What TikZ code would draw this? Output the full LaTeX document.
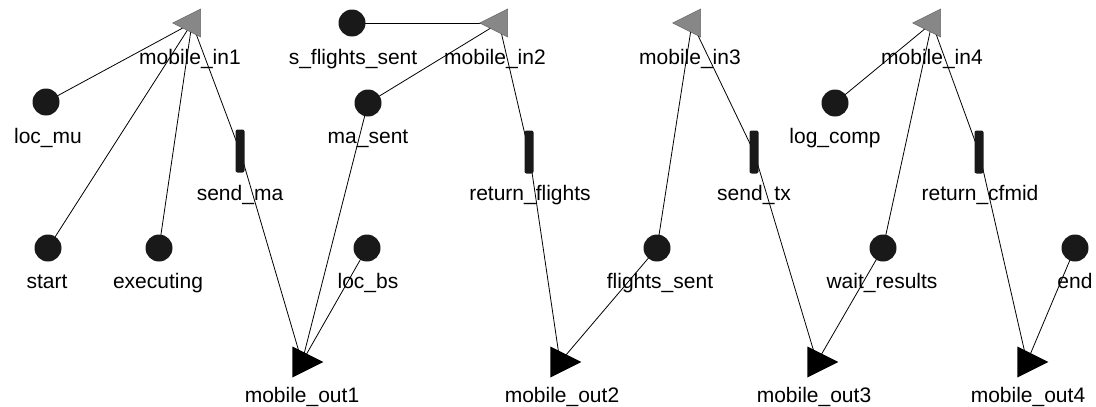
\documentclass[tikz,border=0pt]{standalone}
\usepackage{fontspec}
\setmainfont{Liberation Sans}
\usetikzlibrary{shapes.geometric,backgrounds}
\definecolor{ingray}{RGB}{135,135,135}
\definecolor{darkfill}{RGB}{25,25,25}
\begin{document}
\begin{tikzpicture}[x=1pt,y=-1pt,
  place/.style={circle, fill=darkfill, minimum size=27pt, inner sep=0pt},
  inT/.style={isosceles triangle, isosceles triangle stretches, shape border rotate=180,
    minimum width=28pt, minimum height=28pt, inner sep=0pt, fill=ingray, draw=black!60, line width=0.4pt},
  outT/.style={isosceles triangle, isosceles triangle stretches, shape border rotate=0,
    minimum width=31pt, minimum height=31pt, inner sep=0pt, fill=black},
  trans/.style={rectangle, rounded corners=2pt, fill=darkfill, minimum width=9pt, minimum height=43pt, inner sep=0pt},
  lbl/.style={anchor=base, inner sep=0pt, font=\fontsize{21}{24}\selectfont},
  arc/.style={draw=black, line width=0.8pt}]
\useasboundingbox (0,0) rectangle (1096,407);
% places
\node[place] (locmu) at (46,102) {};
\node[place] (start) at (48,248) {};
\node[place] (exec) at (159,248) {};
\node[place] (locbs) at (367,248) {};
\node[place] (sfs) at (352,23) {};
\node[place] (masent) at (368,103) {};
\node[place] (fs) at (657,248) {};
\node[place] (logcomp) at (835,103) {};
\node[place] (wr) at (883,248) {};
\node[place] (end) at (1075,248) {};
% transitions
\node[trans] (sendma) at (240,151) {};
\node[trans] (retfl) at (529,152) {};
\node[trans] (sendtx) at (754,152) {};
\node[trans] (retcf) at (979,152) {};
% input triangles
\node[inT] (in1) at (192,23) {};
\node[inT] (in2) at (499,23) {};
\node[inT] (in3) at (692,23) {};
\node[inT] (in4) at (932,23) {};
% output triangles
\node[outT] (out1) at (302,362) {};
\node[outT] (out2) at (560,362) {};
\node[outT] (out3) at (817,362) {};
\node[outT] (out4) at (1027,362) {};
% labels
\node[lbl] (l-locmu) at (48,143) {loc\_mu};
\node[lbl] (l-start) at (47,288) {start};
\node[lbl] (l-exec) at (158,288) {executing};
\node[lbl] (l-locbs) at (368,288) {loc\_bs};
\node[lbl] (l-sfs) at (353,64) {s\_flights\_sent};
\node[lbl] (l-masent) at (368,143) {ma\_sent};
\node[lbl] (l-fs) at (660,288) {flights\_sent};
\node[lbl] (l-logcomp) at (835,143) {log\_comp};
\node[lbl] (l-wr) at (882,288) {wait\_results};
\node[lbl] (l-end) at (1075,288) {end};
\node[lbl] (l-sendma) at (240,200) {send\_ma};
\node[lbl] (l-retfl) at (530,200) {return\_flights};
\node[lbl] (l-sendtx) at (754,200) {send\_tx};
\node[lbl] (l-retcf) at (980,200) {return\_cfmid};
\node[lbl] (l-in1) at (190,64) {mobile\_in1};
\node[lbl] (l-in2) at (495,64) {mobile\_in2};
\node[lbl] (l-in3) at (690,64) {mobile\_in3};
\node[lbl] (l-in4) at (932,64) {mobile\_in4};
\node[lbl] (l-out1) at (302,402) {mobile\_out1};
\node[lbl] (l-out2) at (562,402) {mobile\_out2};
\node[lbl] (l-out3) at (814,402) {mobile\_out3};
\node[lbl] (l-out4) at (1028,402) {mobile\_out4};
% arcs
\begin{pgfonlayer}{background}
\path[arc] (in1.center) -- (locmu.center);
\path[arc] (in1.center) -- (start.center);
\path[arc] (in1.center) -- (exec.center);
\path[arc] (in1.center) -- (sendma.center);
\path[arc] (sendma.center) -- (out1.center);
\path[arc] (locbs.center) -- (out1.center);
\path[arc] (masent.center) -- (out1.center);
\path[arc] (masent.center) -- (in2.center);
\path[arc] (sfs.center) -- (in2.center);
\path[arc] (in2.center) -- (retfl.center);
\path[arc] (retfl.center) -- (out2.center);
\path[arc] (fs.center) -- (out2.center);
\path[arc] (fs.center) -- (in3.center);
\path[arc] (in3.center) -- (sendtx.center);
\path[arc] (sendtx.center) -- (out3.center);
\path[arc] (wr.center) -- (out3.center);
\path[arc] (wr.center) -- (in4.center);
\path[arc] (logcomp.center) -- (in4.center);
\path[arc] (in4.center) -- (retcf.center);
\path[arc] (retcf.center) -- (out4.center);
\path[arc] (end.center) -- (out4.center);
\end{pgfonlayer}
\end{tikzpicture}
\end{document}
